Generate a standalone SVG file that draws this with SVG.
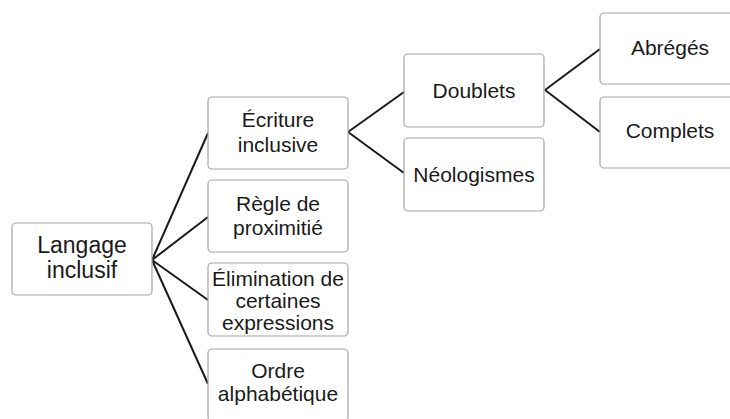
<svg xmlns="http://www.w3.org/2000/svg" width="730" height="419" viewBox="0 0 730 419">
<style>
.box{fill:#fff;stroke:#a6a6a6;stroke-width:1.2}
.t{font-family:"Liberation Sans",Arial,sans-serif;font-size:21px;fill:#1a1a1a;text-anchor:middle}
.big{font-size:23px}
.c{fill:none;stroke:#1a1a1a;stroke-width:2}
</style>
<rect width="730" height="419" fill="#fff"/>
<g id="connectors">
<path class="c" d="M152,260 L208,133 M152,260 L208,217 M152,260 L208,300 M152,260 L208,384"/>
<path class="c" d="M348,132 L404,92 M348,132 L404,173"/>
<path class="c" d="M545,90 L600,49 M545,90 L600,132"/>
</g>
<g id="n-langage"><rect class="box" x="12" y="223" width="140" height="72" rx="4"/><text class="t big" x="82" y="253">Langage</text><text class="t big" x="82" y="278">inclusif</text></g>
<g id="n-ecriture"><rect class="box" x="208" y="97" width="140" height="72" rx="4"/><text class="t" x="278" y="127">Écriture</text><text class="t" x="278" y="152">inclusive</text></g>
<g id="n-regle"><rect class="box" x="208" y="180" width="140" height="72" rx="4"/><text class="t" x="278" y="211">Règle de</text><text class="t" x="278" y="235">proximitié</text></g>
<g id="n-elimination"><rect class="box" x="208" y="263" width="140" height="73" rx="4"/><text class="t" x="278" y="286">Élimination de</text><text class="t" x="278" y="308">certaines</text><text class="t" x="278" y="330">expressions</text></g>
<g id="n-ordre"><rect class="box" x="208" y="349" width="140" height="72" rx="4"/><text class="t" x="278" y="378">Ordre</text><text class="t" x="278" y="401">alphabétique</text></g>
<g id="n-doublets"><rect class="box" x="404" y="54" width="140" height="73" rx="4"/><text class="t" x="474" y="98">Doublets</text></g>
<g id="n-neologismes"><rect class="box" x="404" y="138" width="140" height="73" rx="4"/><text class="t" x="474" y="182">Néologismes</text></g>
<g id="n-abreges"><rect class="box" x="600" y="13" width="140" height="71" rx="4"/><text class="t" x="670" y="55">Abrégés</text></g>
<g id="n-complets"><rect class="box" x="600" y="97" width="140" height="71" rx="4"/><text class="t" x="670" y="138">Complets</text></g>
</svg>
